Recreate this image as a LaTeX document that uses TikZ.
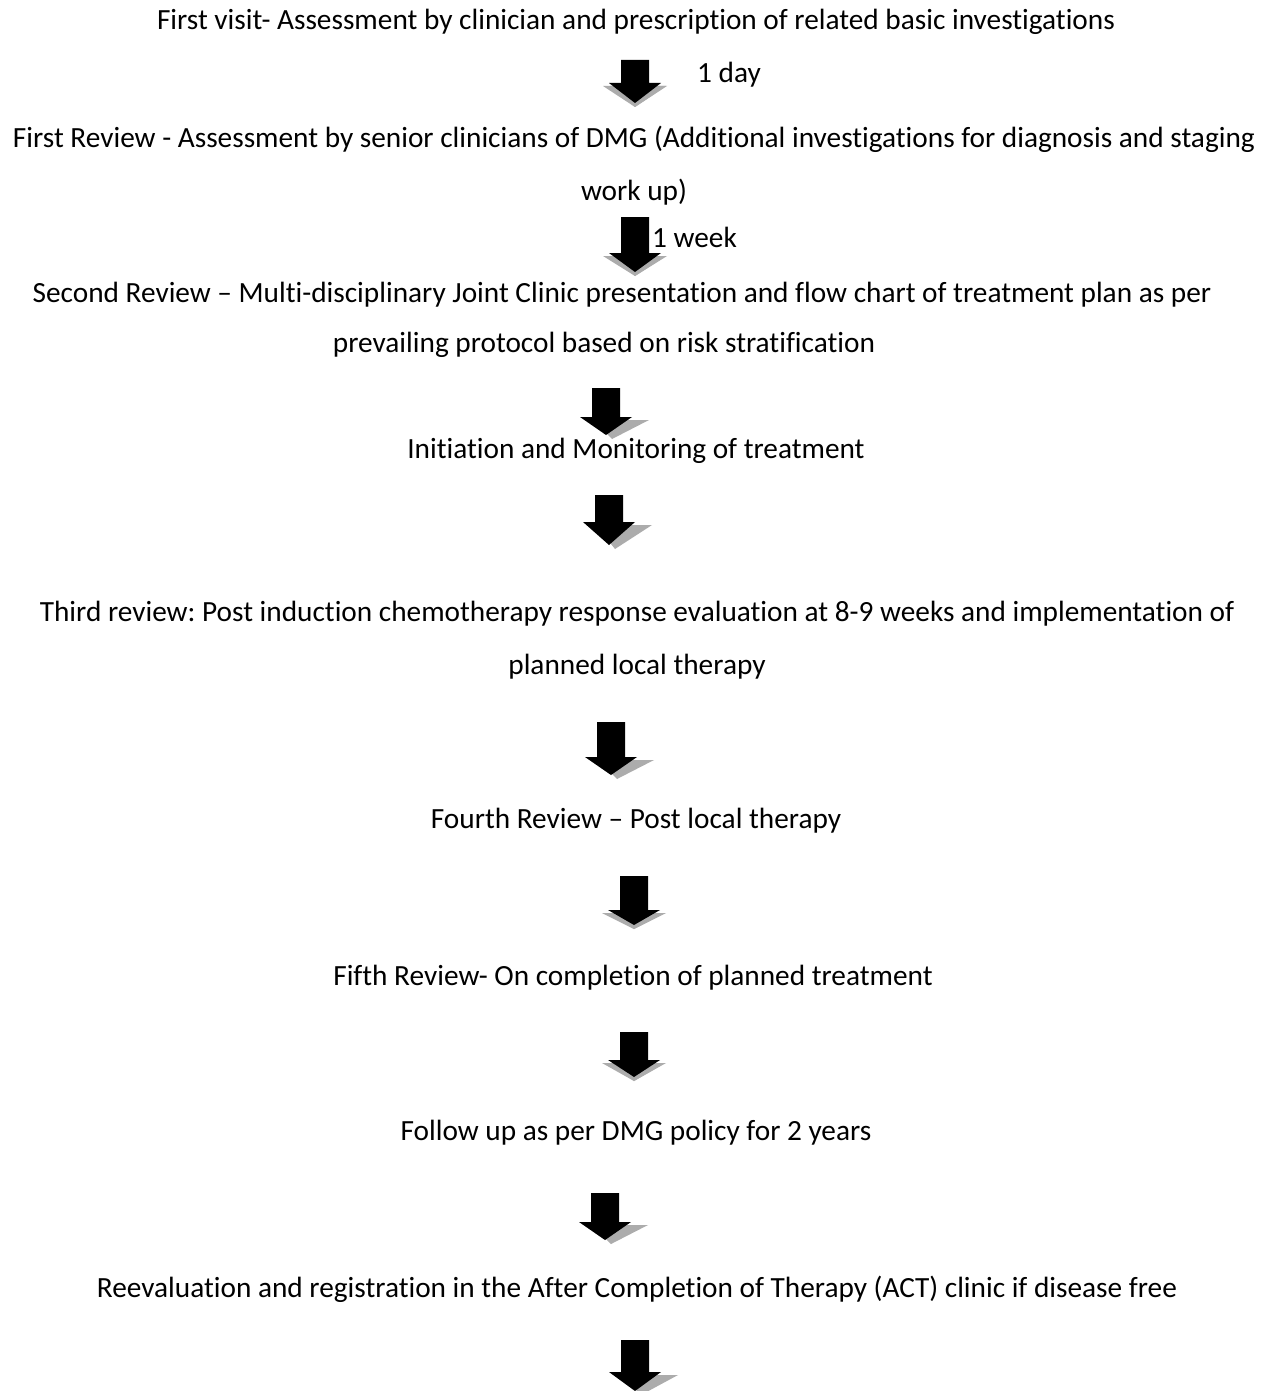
\documentclass[tikz,border=0pt]{standalone}
\usepackage{fontspec}
\setmainfont{Carlito}[Ligatures=NoCommon]
\begin{document}
\frenchspacing
\begin{tikzpicture}[x=1pt,y=-1pt,
  txt/.style={font=\fontsize{29.3}{53}\selectfont, align=center, inner sep=0pt, text=black},
  lbl/.style={font=\fontsize{29.3}{53}\selectfont, inner sep=0pt, anchor=west},
  shade/.style={fill=gray!65, draw=none},
  blk/.style={fill=black, draw=none}]
\useasboundingbox (0,0) rectangle (1274,1391);
\fill[white] (0,0) rectangle (1274,1391);

% block arrow: #1 cx, #2 top, #3 head top, #4 tip, #5 shadow dx
\newcommand\blockarr[5]{%
  \fill[shade] ({#1-25+#5},{#3+3}) -- ({#1+25+#5+6},{#3+3}) -- ({#1+#5/2},{#4+4}) -- cycle;
  \ifdim #5pt=0pt
  \fill[shade] ({#1-32},{#3+3}) -- ({#1+32},{#3+3}) -- ({#1},{#4+4}) -- cycle;
  \fi
  \fill[blk] ({#1-14},{#2}) -- ({#1+14},{#2}) -- ({#1+14},{#3}) -- ({#1+26},{#3})
     -- ({#1},{#4}) -- ({#1-26},{#3}) -- ({#1-14},{#3}) -- cycle;
}

\node[txt] (v1) at (636,22) {First visit- Assessment by clinician and prescription of related basic investigations};
\node[lbl] (d1) at (697,75) {1 day};
\node[txt] (r1) at (634,166) {First Review - Assessment by senior clinicians of DMG (Additional investigations for diagnosis and staging\\work up)};
\node[lbl] (w1) at (652,237) {1 week};
\node[txt] (r2) at (622,295) {Second Review -- Multi-disciplinary Joint Clinic presentation and flow chart of treatment plan as per};
\node[txt] (r2b) at (604,345) {prevailing protocol based on risk stratification};
\node[txt] (im) at (636,451) {Initiation and Monitoring of treatment};
\node[txt] (r3) at (637,640) {Third review: Post induction chemotherapy response evaluation at 8-9 weeks and implementation of\\planned local therapy};
\node[txt] (r4) at (636,821) {Fourth Review -- Post local therapy};
\node[txt] (r5) at (633,978) {Fifth Review- On completion of planned treatment};
\node[txt] (fu) at (636,1133) {Follow up as per DMG policy for 2 years};
\node[txt] (re) at (637,1289) {Reevaluation and registration in the After Completion of Therapy (ACT) clinic if disease free};

\blockarr{635}{60}{83}{103}{0}
\blockarr{635}{217}{253}{272}{0}
\blockarr{606}{388}{417}{435}{12}
\blockarr{609}{495}{522}{545}{12}
\blockarr{611}{722}{757}{775}{12}
\blockarr{634}{876}{910}{925}{0}
\blockarr{634}{1032}{1060}{1077}{0}
\blockarr{605}{1193}{1222}{1240}{12}
\blockarr{635}{1340}{1372}{1391}{12}
\end{tikzpicture}
\end{document}
